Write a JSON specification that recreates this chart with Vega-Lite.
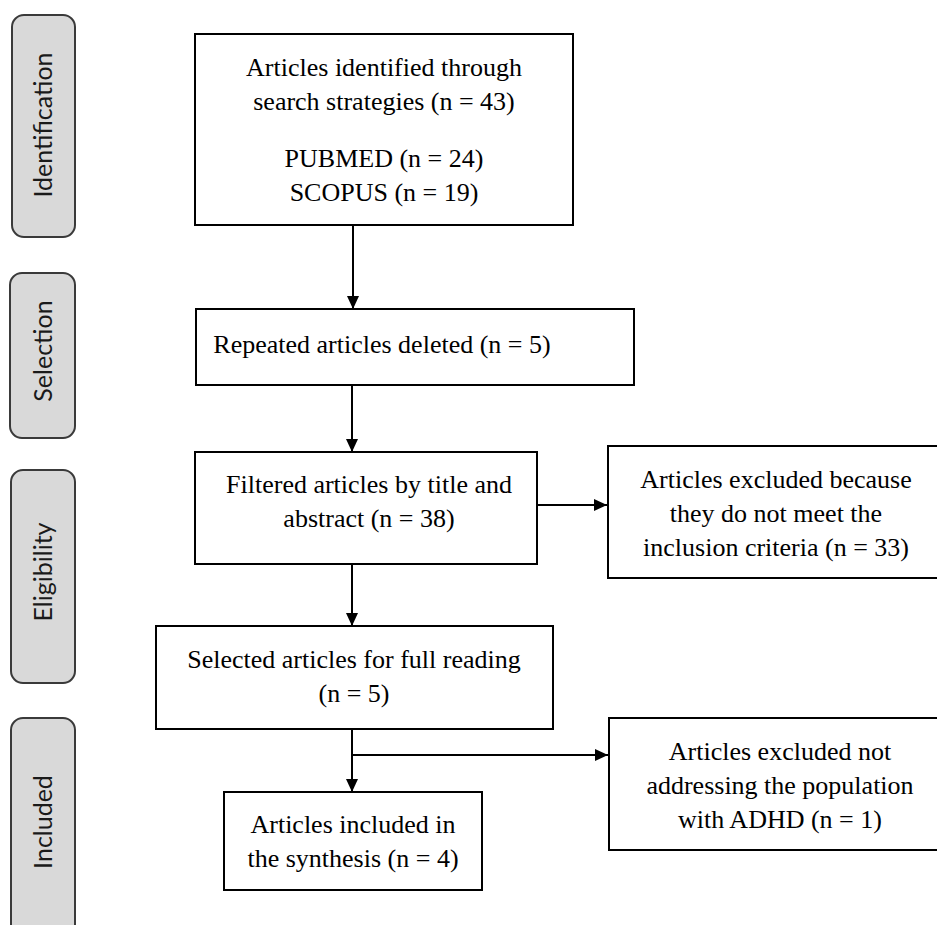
{
  "$schema": "https://vega.github.io/schema/vega-lite/v6.json",
  "width": 937,
  "height": 925,
  "padding": 0,
  "autosize": {"type": "none"},
  "background": "white",
  "config": {"view": {"stroke": null}},
  "datasets": {
    "stages": [
      {"label": "Identification", "x0": 12, "x1": 75, "y0": 15, "y1": 237, "xc": 44, "yc": 125},
      {"label": "Selection", "x0": 10, "x1": 75, "y0": 273, "y1": 438, "xc": 44, "yc": 351},
      {"label": "Eligibility", "x0": 11, "x1": 75, "y0": 470, "y1": 683, "xc": 44, "yc": 572},
      {"label": "Included", "x0": 11, "x1": 75, "y0": 718, "y1": 950, "xc": 44, "yc": 822}
    ],
    "boxes": [
      {"id": "identified", "x0": 195, "x1": 573, "y0": 34, "y1": 225},
      {"id": "repeated", "x0": 196, "x1": 634, "y0": 309, "y1": 385},
      {"id": "filtered", "x0": 195, "x1": 537, "y0": 452, "y1": 564},
      {"id": "excluded1", "x0": 608, "x1": 950, "y0": 446, "y1": 578},
      {"id": "selected", "x0": 156, "x1": 553, "y0": 626, "y1": 729},
      {"id": "included", "x0": 224, "x1": 482, "y0": 792, "y1": 890},
      {"id": "excluded2", "x0": 609, "x1": 950, "y0": 718, "y1": 850}
    ],
    "texts": [
      {"text": "Articles identified through\nsearch strategies (n = 43)", "x": 384, "y": 76},
      {"text": "PUBMED (n = 24)\nSCOPUS (n = 19)", "x": 384, "y": 167},
      {"text": "Repeated articles deleted (n = 5)", "x": 382, "y": 353},
      {"text": "Filtered articles by title and\nabstract (n = 38)", "x": 369, "y": 493},
      {"text": "Articles excluded because\nthey do not meet the\ninclusion criteria (n = 33)", "x": 776, "y": 488},
      {"text": "Selected articles for full reading\n(n = 5)", "x": 354, "y": 668},
      {"text": "Articles included in\nthe synthesis (n = 4)", "x": 353, "y": 833},
      {"text": "Articles excluded not\naddressing the population\nwith ADHD (n = 1)", "x": 780, "y": 760}
    ],
    "links": [
      {"x0": 353, "y0": 225, "x1": 353, "y1": 309, "dir": "down"},
      {"x0": 352, "y0": 385, "x1": 352, "y1": 452, "dir": "down"},
      {"x0": 352, "y0": 564, "x1": 352, "y1": 626, "dir": "down"},
      {"x0": 352, "y0": 729, "x1": 352, "y1": 792, "dir": "down"},
      {"x0": 537, "y0": 505, "x1": 607, "y1": 505, "dir": "right"},
      {"x0": 352, "y0": 755, "x1": 608, "y1": 755, "dir": "right"}
    ]
  },
  "layer": [
    {
      "data": {"name": "stages"},
      "mark": {"type": "rect", "fill": "#d9d9d9", "stroke": "#3a3a3a", "strokeWidth": 2, "cornerRadius": 12, "clip": true},
      "encoding": {
        "x": {"field": "x0", "type": "quantitative", "scale": {"domain": [0, 937], "nice": false, "zero": false}, "axis": null},
        "x2": {"field": "x1"},
        "y": {"field": "y0", "type": "quantitative", "scale": {"domain": [0, 925], "nice": false, "zero": false, "reverse": true}, "axis": null},
        "y2": {"field": "y1"}
      }
    },
    {
      "data": {"name": "stages"},
      "mark": {"type": "text", "angle": 270, "align": "center", "baseline": "middle", "font": "Lato", "fontSize": 25, "color": "#1a1a1a"},
      "encoding": {
        "x": {"field": "xc", "type": "quantitative"},
        "y": {"field": "yc", "type": "quantitative"},
        "text": {"field": "label"}
      }
    },
    {
      "data": {"name": "boxes"},
      "mark": {"type": "rect", "fill": "white", "stroke": "black", "strokeWidth": 2, "clip": true},
      "encoding": {
        "x": {"field": "x0", "type": "quantitative"},
        "x2": {"field": "x1"},
        "y": {"field": "y0", "type": "quantitative"},
        "y2": {"field": "y1"}
      }
    },
    {
      "data": {"name": "texts"},
      "mark": {"type": "text", "align": "center", "baseline": "alphabetic", "font": "Liberation Serif", "fontSize": 26, "lineHeight": 34, "lineBreak": "\n", "color": "black"},
      "encoding": {
        "x": {"field": "x", "type": "quantitative"},
        "y": {"field": "y", "type": "quantitative"},
        "text": {"field": "text"}
      }
    },
    {
      "data": {"name": "links"},
      "mark": {"type": "rule", "stroke": "black", "strokeWidth": 2},
      "encoding": {
        "x": {"field": "x0", "type": "quantitative"},
        "y": {"field": "y0", "type": "quantitative"},
        "x2": {"field": "x1"},
        "y2": {"field": "y1"}
      }
    },
    {
      "data": {"name": "links"},
      "transform": [{"filter": "datum.dir === 'down'"}],
      "mark": {"type": "point", "shape": "M-0.923,-2L0.923,-2L0,0Z", "size": 169, "filled": true, "fill": "black", "stroke": null, "opacity": 1},
      "encoding": {
        "x": {"field": "x1", "type": "quantitative"},
        "y": {"field": "y1", "type": "quantitative"}
      }
    },
    {
      "data": {"name": "links"},
      "transform": [{"filter": "datum.dir === 'right'"}],
      "mark": {"type": "point", "shape": "M-2,-0.923L-2,0.923L0,0Z", "size": 169, "filled": true, "fill": "black", "stroke": null, "opacity": 1},
      "encoding": {
        "x": {"field": "x1", "type": "quantitative"},
        "y": {"field": "y1", "type": "quantitative"}
      }
    }
  ]
}
